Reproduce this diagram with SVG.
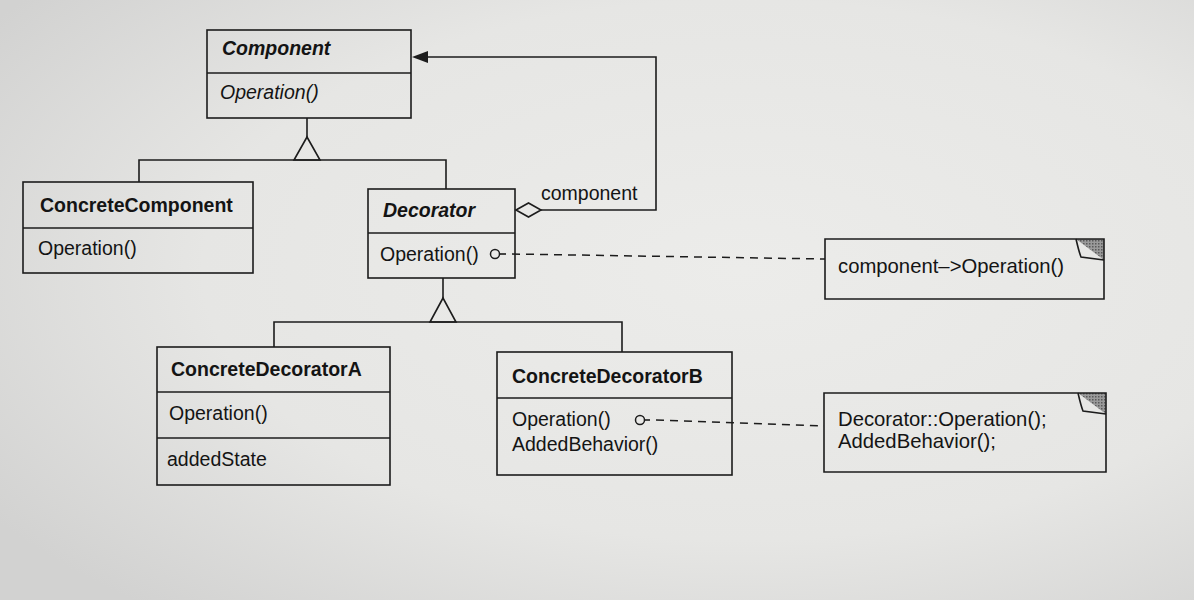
<svg xmlns="http://www.w3.org/2000/svg" width="1194" height="600" viewBox="0 0 1194 600">
  <defs>
    <radialGradient id="paper" cx="0.62" cy="0.45" r="0.75">
      <stop offset="0" stop-color="#ececea"/>
      <stop offset="0.6" stop-color="#e6e6e4"/>
      <stop offset="1" stop-color="#d2d2d1"/>
    </radialGradient>
    <pattern id="stipple" width="3" height="3" patternUnits="userSpaceOnUse">
      <rect width="3" height="3" fill="#9a9a9a"/>
      <rect width="1.5" height="1.5" fill="#5a5a5a"/>
    </pattern>
    <style>
      .box { fill: none; stroke: #1c1c1c; stroke-width: 1.6; }
      .ln { fill: none; stroke: #1c1c1c; stroke-width: 1.6; }
      .dash { fill: none; stroke: #1c1c1c; stroke-width: 1.5; stroke-dasharray: 8 6; }
      .tri { fill: none; stroke: #1c1c1c; stroke-width: 1.6; stroke-linejoin: miter; }
      .t { font-family: "Liberation Sans", Arial, sans-serif; font-size: 19.5px; fill: #141414; }
      .n { font-size: 20.3px; }
      .b { font-weight: bold; }
      .i { font-style: italic; }
      .dot { fill: none; stroke: #1c1c1c; stroke-width: 1.5; }
    </style>
  </defs>
  <rect x="0" y="0" width="1194" height="600" fill="url(#paper)"/>

  <g id="connectors">
    <!-- Component generalization -->
    <line class="ln" x1="307" y1="118" x2="307" y2="137"/>
    <polygon class="tri" points="307,137 294,160 320,160"/>
    <polyline class="ln" points="139,182 139,160 446,160 446,189"/>
    <!-- Decorator generalization -->
    <line class="ln" x1="443" y1="278" x2="443" y2="298"/>
    <polygon class="tri" points="443,298 430,322 456,322"/>
    <polyline class="ln" points="274,347 274,322 622,322 622,352"/>
    <!-- Aggregation to Component -->
    <polygon points="516,210 528.5,203 541,210 528.5,217" fill="#e8e8e6" stroke="#1c1c1c" stroke-width="1.6"/>
    <polyline class="ln" points="541,210 656,210 656,57 426,57"/>
    <polygon points="412,57 428,51 428,63" fill="#1c1c1c"/>
    <text class="t" x="541" y="200">component</text>
    <!-- Note links -->
    <circle class="dot" cx="495" cy="254" r="4.5"/>
    <line class="ln" x1="499.5" y1="254" x2="506" y2="254" stroke-width="1.5"/>
    <line class="dash" x1="512" y1="254" x2="825" y2="259"/>
    <circle class="dot" cx="640" cy="420" r="4.5"/>
    <line class="ln" x1="644.5" y1="420" x2="650" y2="420" stroke-width="1.5"/>
    <line class="dash" x1="656" y1="420" x2="824" y2="426"/>
  </g>

  <g id="Component">
    <rect class="box" x="207" y="30" width="204" height="88"/>
    <line class="ln" x1="207" y1="73" x2="411" y2="73"/>
    <text class="t b i" x="222" y="55">Component</text>
    <text class="t i" x="220" y="99">Operation()</text>
  </g>

  <g id="ConcreteComponent">
    <rect class="box" x="23" y="182" width="230" height="91"/>
    <line class="ln" x1="23" y1="228" x2="253" y2="228"/>
    <text class="t b" x="40" y="212">ConcreteComponent</text>
    <text class="t" x="38" y="255">Operation()</text>
  </g>

  <g id="Decorator">
    <rect class="box" x="368" y="189" width="147" height="89"/>
    <line class="ln" x1="368" y1="233" x2="515" y2="233"/>
    <text class="t b i" x="383" y="217">Decorator</text>
    <text class="t" x="380" y="261">Operation()</text>
  </g>

  <g id="ConcreteDecoratorA">
    <rect class="box" x="157" y="347" width="233" height="138"/>
    <line class="ln" x1="157" y1="392" x2="390" y2="392"/>
    <line class="ln" x1="157" y1="438" x2="390" y2="438"/>
    <text class="t b" x="171" y="376">ConcreteDecoratorA</text>
    <text class="t" x="169" y="420">Operation()</text>
    <text class="t" x="167" y="466">addedState</text>
  </g>

  <g id="ConcreteDecoratorB">
    <rect class="box" x="497" y="352" width="235" height="123"/>
    <line class="ln" x1="497" y1="398" x2="732" y2="398"/>
    <text class="t b" x="512" y="383">ConcreteDecoratorB</text>
    <text class="t" x="512" y="426">Operation()</text>
    <text class="t" x="512" y="451">AddedBehavior()</text>
  </g>

  <g id="Note1">
    <polygon points="1076,239 1104,239 1104,260" fill="url(#stipple)"/>
    <path class="box" d="M825,239 H1104 V299 H825 Z"/>
    <path class="ln" d="M1076,239 Q1079,252 1081,257 L1104,260"/>
    <text class="t n" x="838" y="273">component–&gt;Operation()</text>
  </g>

  <g id="Note2">
    <polygon points="1078,393 1106,393 1106,414" fill="url(#stipple)"/>
    <path class="box" d="M824,393 H1106 V472 H824 Z"/>
    <path class="ln" d="M1078,393 Q1081,406 1083,411 L1106,414"/>
    <text class="t n" x="838" y="426">Decorator::Operation();</text>
    <text class="t n" x="838" y="448">AddedBehavior();</text>
  </g>
</svg>
